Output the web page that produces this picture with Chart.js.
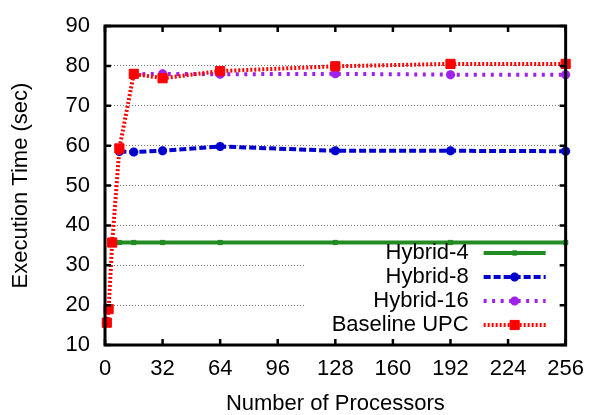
<!DOCTYPE html>
<html>
<head>
<meta charset="utf-8">
<script src="https://cdn.jsdelivr.net/npm/chart.js@4/dist/chart.umd.min.js"></script>
<style>
  html, body { margin: 0; padding: 0; background: #fff; }
  #wrap { width: 597px; height: 415px; }
</style>
</head>
<body>
<div id="wrap"><canvas id="myChart" width="597" height="415"></canvas></div>
<script>

// processors used by each run
var baselineProcs = [1, 2, 4, 8, 16, 32, 64, 128, 192, 256];
var hybrid4Procs = [4, 8, 16, 32, 64, 128, 192, 256];
var hybrid8Procs = [8, 16, 32, 64, 128, 192, 256];
var hybrid16Procs = [16, 32, 64, 128, 192, 256];

// execution time in seconds
var baselineTime = [15.6, 19.0, 35.7, 59.3, 78.0, 76.9, 78.7, 79.9, 80.5, 80.5];
var hybrid4Time = [35.7, 35.7, 35.7, 35.7, 35.7, 35.7, 35.7, 35.7];
var hybrid8Time = [58.5, 58.4, 58.7, 59.8, 58.7, 58.7, 58.6];
var hybrid16Time = [77.9, 78.0, 77.9, 78.0, 77.8, 77.8];

var xTicks = [0, 32, 64, 96, 128, 160, 192, 224, 256];
var yTicks = [10, 20, 30, 40, 50, 60, 70, 80, 90];

var FONT = "'Liberation Sans', Arial, Helvetica, sans-serif";

function toPoints(xs, ys) {
    var pts = [];
    for (var i = 0; i < xs.length; i++) {
        pts.push({ x: xs[i], y: ys[i] });
    }
    return pts;
}

// frame, inward ticks and the gnuplot style key
var gnuplotBits = {
    id: 'gnuplotBits',
    beforeDatasetsDraw: function(chart) {
        var ctx = chart.ctx, a = chart.chartArea;
        // key box hides the grid behind it
        ctx.save();
        ctx.fillStyle = '#fff';
        ctx.fillRect(a.left + 199, a.bottom - 104, a.right - a.left - 201, 101);
        ctx.restore();
    },
    afterDraw: function(chart) {
        var ctx = chart.ctx, a = chart.chartArea;
        var xs = chart.scales.x, ys = chart.scales.y;
        ctx.save();
        ctx.strokeStyle = '#000';
        ctx.lineWidth = 2.5;
        ctx.setLineDash([]);
        ctx.beginPath();
        xTicks.forEach(function(v) {
            var px = xs.getPixelForValue(v);
            ctx.moveTo(px, a.bottom); ctx.lineTo(px, a.bottom - 6);
            ctx.moveTo(px, a.top); ctx.lineTo(px, a.top + 6);
        });
        yTicks.forEach(function(v) {
            var py = ys.getPixelForValue(v);
            ctx.moveTo(a.left, py); ctx.lineTo(a.left + 6, py);
            ctx.moveTo(a.right, py); ctx.lineTo(a.right - 6, py);
        });
        ctx.stroke();
        ctx.lineWidth = 3;
        ctx.strokeRect(a.left, a.top, a.right - a.left, a.bottom - a.top);

        // key
        var textX = a.right - 97, lineX0 = a.right - 82, lineX1 = a.right - 20;
        var rowY = a.bottom - 92;
        ctx.font = '22px ' + FONT;
        ctx.textAlign = 'right';
        ctx.textBaseline = 'middle';
        chart.data.datasets.forEach(function(ds, i) {
            var y = rowY + i * 24;
            ctx.fillStyle = '#000';
            ctx.fillText(ds.label, textX, y);
            ctx.strokeStyle = ds.borderColor;
            ctx.lineWidth = ds.borderWidth;
            ctx.setLineDash(ds.borderDash || []);
            ctx.beginPath();
            ctx.moveTo(lineX0, y); ctx.lineTo(lineX1, y);
            ctx.stroke();
            ctx.setLineDash([]);
            ctx.fillStyle = ds.pointBackgroundColor;
            ctx.strokeStyle = ds.pointBorderColor;
            ctx.lineWidth = ds.pointBorderWidth;
            Chart.helpers.drawPoint(ctx, {
                pointStyle: ds.pointStyle,
                radius: ds.pointRadius,
                borderWidth: ds.pointBorderWidth,
                rotation: 0
            }, (lineX0 + lineX1) / 2, y);
        });
        ctx.restore();
    }
};

var ctx = document.getElementById('myChart').getContext('2d');
Chart.defaults.color = '#000';
Chart.defaults.font.family = FONT;

var chart = new Chart(ctx, {
    type: 'line',
    data: {
        datasets: [{
                label: 'Hybrid-4',
                data: toPoints(hybrid4Procs, hybrid4Time),
                borderColor: '#228b22',
                backgroundColor: '#228b22',
                borderWidth: 4,
                pointStyle: 'rect',
                pointRadius: 3,
                pointBorderWidth: 1,
                pointBackgroundColor: '#228b22',
                pointBorderColor: '#228b22',
                order: 3
            },
            {
                label: 'Hybrid-8',
                data: toPoints(hybrid8Procs, hybrid8Time),
                borderColor: '#0000cd',
                backgroundColor: '#0000cd',
                borderWidth: 4,
                borderDash: [7, 3],
                pointStyle: 'star',
                pointRadius: 4.5,
                pointBorderWidth: 3,
                pointBackgroundColor: '#0000cd',
                pointBorderColor: '#0000cd',
                order: 2
            },
            {
                label: 'Hybrid-16',
                data: toPoints(hybrid16Procs, hybrid16Time),
                borderColor: '#a020f0',
                backgroundColor: '#a020f0',
                borderWidth: 4,
                borderDash: [3, 5.5],
                pointStyle: 'star',
                pointRadius: 4.5,
                pointBorderWidth: 3,
                pointBackgroundColor: '#a020f0',
                pointBorderColor: '#a020f0',
                order: 1
            },
            {
                label: 'Baseline UPC',
                data: toPoints(baselineProcs, baselineTime),
                borderColor: '#ff0000',
                backgroundColor: '#ff0000',
                borderWidth: 4,
                borderDash: [2, 2],
                pointStyle: 'rect',
                pointRadius: 6.5,
                pointBorderWidth: 1,
                pointBackgroundColor: '#ff0000',
                pointBorderColor: '#ff0000',
                order: 0
            }
        ]
    },
    options: {
        responsive: false,
        animation: false,
        devicePixelRatio: 1,
        clip: false,
        layout: { padding: { top: 15, right: 28, left: 0, bottom: 0 } },
        plugins: {
            legend: { display: false },
            tooltip: { enabled: false }
        },
        elements: { line: { tension: 0, fill: false } },
        scales: {
            x: {
                type: 'linear',
                min: 0,
                max: 256,
                afterBuildTicks: function(scale) {
                    scale.ticks = xTicks.map(function(v) { return { value: v }; });
                },
                afterFit: function(scale) { scale.height = 70; },
                grid: { display: false, drawTicks: false },
                border: { display: false },
                ticks: { padding: 13, maxRotation: 0, font: { size: 22, lineHeight: 1 } },
                title: {
                    display: true,
                    text: 'Number of Processors',
                    font: { size: 22, lineHeight: 1 },
                    padding: { top: 0, bottom: 0 }
                }
            },
            y: {
                min: 10,
                max: 90,
                afterBuildTicks: function(scale) {
                    scale.ticks = yTicks.map(function(v) { return { value: v }; });
                },
                afterFit: function(scale) { scale.width = 105; },
                grid: { color: '#777', lineWidth: 1, drawTicks: false },
                border: { display: false, dash: [1, 2] },
                ticks: { padding: 15, font: { size: 22, lineHeight: 1 } },
                title: {
                    display: true,
                    text: 'Execution Time (sec)',
                    font: { size: 22, lineHeight: 1 },
                    padding: { top: 10, bottom: 0 }
                }
            }
        }
    },
    plugins: [gnuplotBits]
});
</script>
</body>
</html>
